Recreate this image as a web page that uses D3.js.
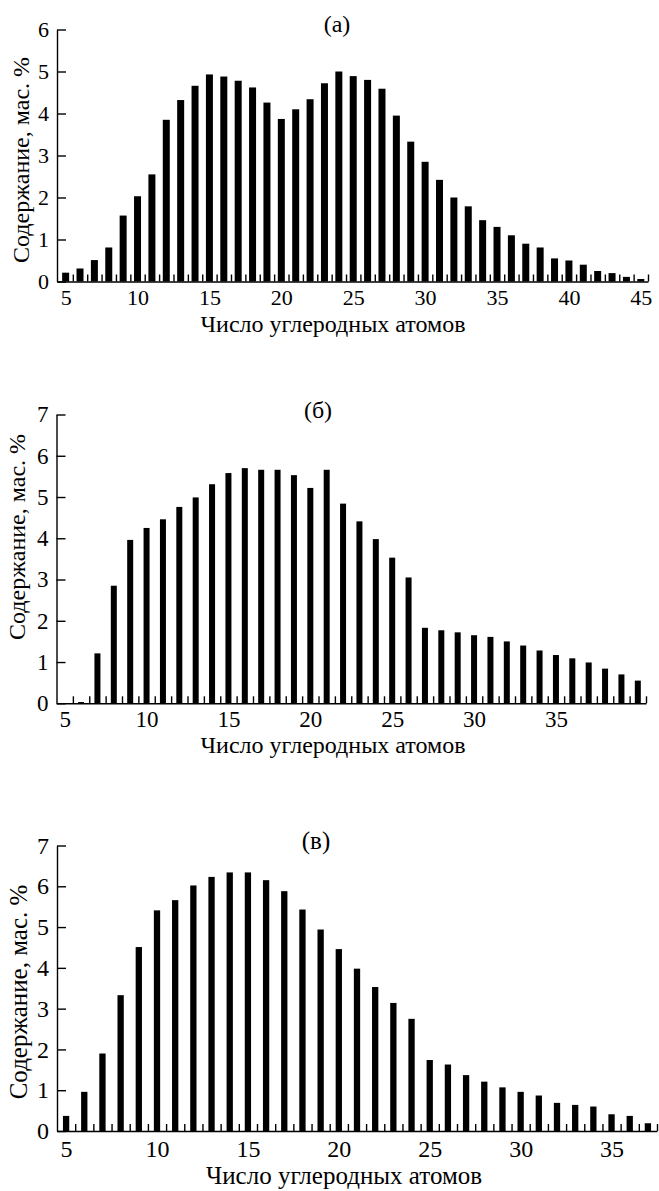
<!DOCTYPE html>
<html>
<head>
<meta charset="utf-8">
<script src="https://cdn.jsdelivr.net/npm/d3@7"></script>
<style>
  body { margin: 0; background: #fff; }
  svg text { font-family: "Liberation Serif", "Times New Roman", serif; fill: #000; }
  .axis path, .axis line { stroke: #000; stroke-width: 1.4px; }
</style>
</head>
<body>
<div id="chart"></div>
<script>
// (а)
var carbonA = [5, 6, 7, 8, 9, 10, 11, 12, 13, 14, 15, 16, 17, 18, 19, 20, 21, 22, 23, 24, 25,
  26, 27, 28, 29, 30, 31, 32, 33, 34, 35, 36, 37, 38, 39, 40, 41, 42, 43, 44, 45];
var valuesA = [0.21, 0.31, 0.51, 0.81, 1.57, 2.03, 2.55, 3.85, 4.32, 4.66, 4.93, 4.88, 4.78, 4.62,
  4.26, 3.87, 4.10, 4.34, 4.72, 5.00, 4.89, 4.80, 4.59, 3.95, 3.33, 2.85, 2.42, 2.00, 1.79, 1.46,
  1.30, 1.10, 0.90, 0.81, 0.55, 0.50, 0.40, 0.25, 0.20, 0.11, 0.06];
var xTicksA = [5, 10, 15, 20, 25, 30, 35, 40, 45];
var yTicksA = [0, 1, 2, 3, 4, 5, 6];

// (б)
var carbonB = [6, 7, 8, 9, 10, 11, 12, 13, 14, 15, 16, 17, 18, 19, 20, 21, 22, 23, 24, 25, 26,
  27, 28, 29, 30, 31, 32, 33, 34, 35, 36, 37, 38, 39, 40];
var valuesB = [0.03, 1.21, 2.85, 3.96, 4.25, 4.46, 4.76, 4.99, 5.31, 5.58, 5.70, 5.66, 5.66, 5.53,
  5.22, 5.66, 4.84, 4.41, 3.98, 3.53, 3.05, 1.83, 1.77, 1.72, 1.65, 1.61, 1.50, 1.40, 1.28, 1.17,
  1.09, 0.99, 0.84, 0.70, 0.55];
var xTicksB = [5, 10, 15, 20, 25, 30, 35];
var yTicksB = [0, 1, 2, 3, 4, 5, 6, 7];

// (в)
var carbonV = [5, 6, 7, 8, 9, 10, 11, 12, 13, 14, 15, 16, 17, 18, 19, 20, 21, 22, 23, 24, 25,
  26, 27, 28, 29, 30, 31, 32, 33, 34, 35, 36, 37];
var valuesV = [0.37, 0.96, 1.90, 3.33, 4.51, 5.41, 5.66, 6.02, 6.23, 6.34, 6.34, 6.15, 5.88, 5.43,
  4.94, 4.46, 3.98, 3.53, 3.14, 2.75, 1.74, 1.63, 1.37, 1.21, 1.07, 0.96, 0.87, 0.69, 0.64, 0.60,
  0.41, 0.37, 0.19];
var xTicksV = [5, 10, 15, 20, 25, 30, 35];
var yTicksV = [0, 1, 2, 3, 4, 5, 6, 7];

var xTitle = "Число углеродных атомов";
var yTitle = "Содержание, мас. %";
var serif = "'Liberation Serif', 'Times New Roman', serif";

var svg = d3
  .select("#chart")
  .append("svg")
  .attr("width", 659)
  .attr("height", 1191);

function drawPanel(p) {
  var g = svg.append("g");

  var x = d3.scaleLinear().domain(p.xDomain).range([p.left, p.right]);
  var y = d3.scaleLinear().domain([0, p.yMax]).range([p.bottom, p.top]);

  /* bars */
  g.selectAll("rect")
    .data(p.carbon)
    .enter()
    .append("rect")
    .attr("x", (d) => x(d) - p.barWidth / 2)
    .attr("width", p.barWidth)
    .attr("y", (d, i) => y(p.values[i]))
    .attr("height", (d, i) => y(0) - y(p.values[i]))
    .attr("fill", "#000");

  /* small ticks between bars, pointing up */
  var minor = d3.range(5.5, p.xDomain[1] - 0.01, 1).concat([p.xDomain[1]]);
  g.append("g")
    .attr("class", "axis")
    .attr("transform", `translate(0, ${p.bottom})`)
    .call(d3.axisTop(x).tickValues(minor).tickSize(7).tickSizeOuter(0).tickFormat(""))
    .select(".domain")
    .remove();

  /* x axis with labels */
  g.append("g")
    .attr("class", "axis")
    .attr("transform", `translate(0, ${p.bottom})`)
    .call(
      d3.axisBottom(x)
        .tickValues(p.xTicks)
        .tickFormat(d3.format("d"))
        .tickSize(0)
        .tickSizeOuter(0)
        .tickPadding(p.xPad)
    )
    .attr("font-family", serif)
    .attr("font-size", p.tickFont)
    .call((s) => s.selectAll(".tick line").remove());

  /* y axis, ticks inside */
  g.append("g")
    .attr("class", "axis")
    .attr("transform", `translate(${p.left}, 0)`)
    .call(
      d3.axisLeft(y)
        .tickValues(p.yTicks)
        .tickFormat(d3.format("d"))
        .tickSize(-9)
        .tickSizeOuter(0)
        .tickPadding(8)
    )
    .attr("font-family", serif)
    .attr("font-size", p.tickFont);

  /* titles */
  g.append("text")
    .attr("x", p.titleX)
    .attr("y", p.titleY)
    .attr("text-anchor", "middle")
    .attr("font-size", p.labelFont)
    .text(p.title);

  g.append("text")
    .attr("x", p.xTitleX)
    .attr("y", p.xTitleY)
    .attr("text-anchor", "middle")
    .attr("font-size", p.labelFont)
    .text(xTitle);

  g.append("text")
    .attr("transform", `translate(${p.yTitleX}, ${p.yTitleY}) rotate(-90)`)
    .attr("text-anchor", "middle")
    .attr("font-size", p.labelFont)
    .text(yTitle);
}

drawPanel({
  carbon: carbonA, values: valuesA, xTicks: xTicksA, yTicks: yTicksA,
  xDomain: [4.4, 45.5], yMax: 6,
  left: 57, right: 648, top: 29.5, bottom: 281.5,
  barWidth: 7, tickFont: 22, labelFont: 24, xPad: 8,
  title: "(а)", titleX: 337, titleY: 32,
  xTitleX: 333, xTitleY: 332, yTitleX: 29, yTitleY: 160
});

drawPanel({
  carbon: carbonB, values: valuesB, xTicks: xTicksB, yTicks: yTicksB,
  xDomain: [4.5, 40.5], yMax: 7,
  left: 56.5, right: 646, top: 414.5, bottom: 703.3,
  barWidth: 6, tickFont: 23, labelFont: 24, xPad: 7,
  title: "(б)", titleX: 318, titleY: 418,
  xTitleX: 333, xTitleY: 753, yTitleX: 25, yTitleY: 537
});

drawPanel({
  carbon: carbonV, values: valuesV, xTicks: xTicksV, yTicks: yTicksV,
  xDomain: [4.5, 37.5], yMax: 7,
  left: 57, right: 657, top: 845.5, bottom: 1131,
  barWidth: 6.3, tickFont: 24, labelFont: 25, xPad: 9,
  title: "(в)", titleX: 316, titleY: 849,
  xTitleX: 344, xTitleY: 1184, yTitleX: 27, yTitleY: 992
});
</script>
</body>
</html>
